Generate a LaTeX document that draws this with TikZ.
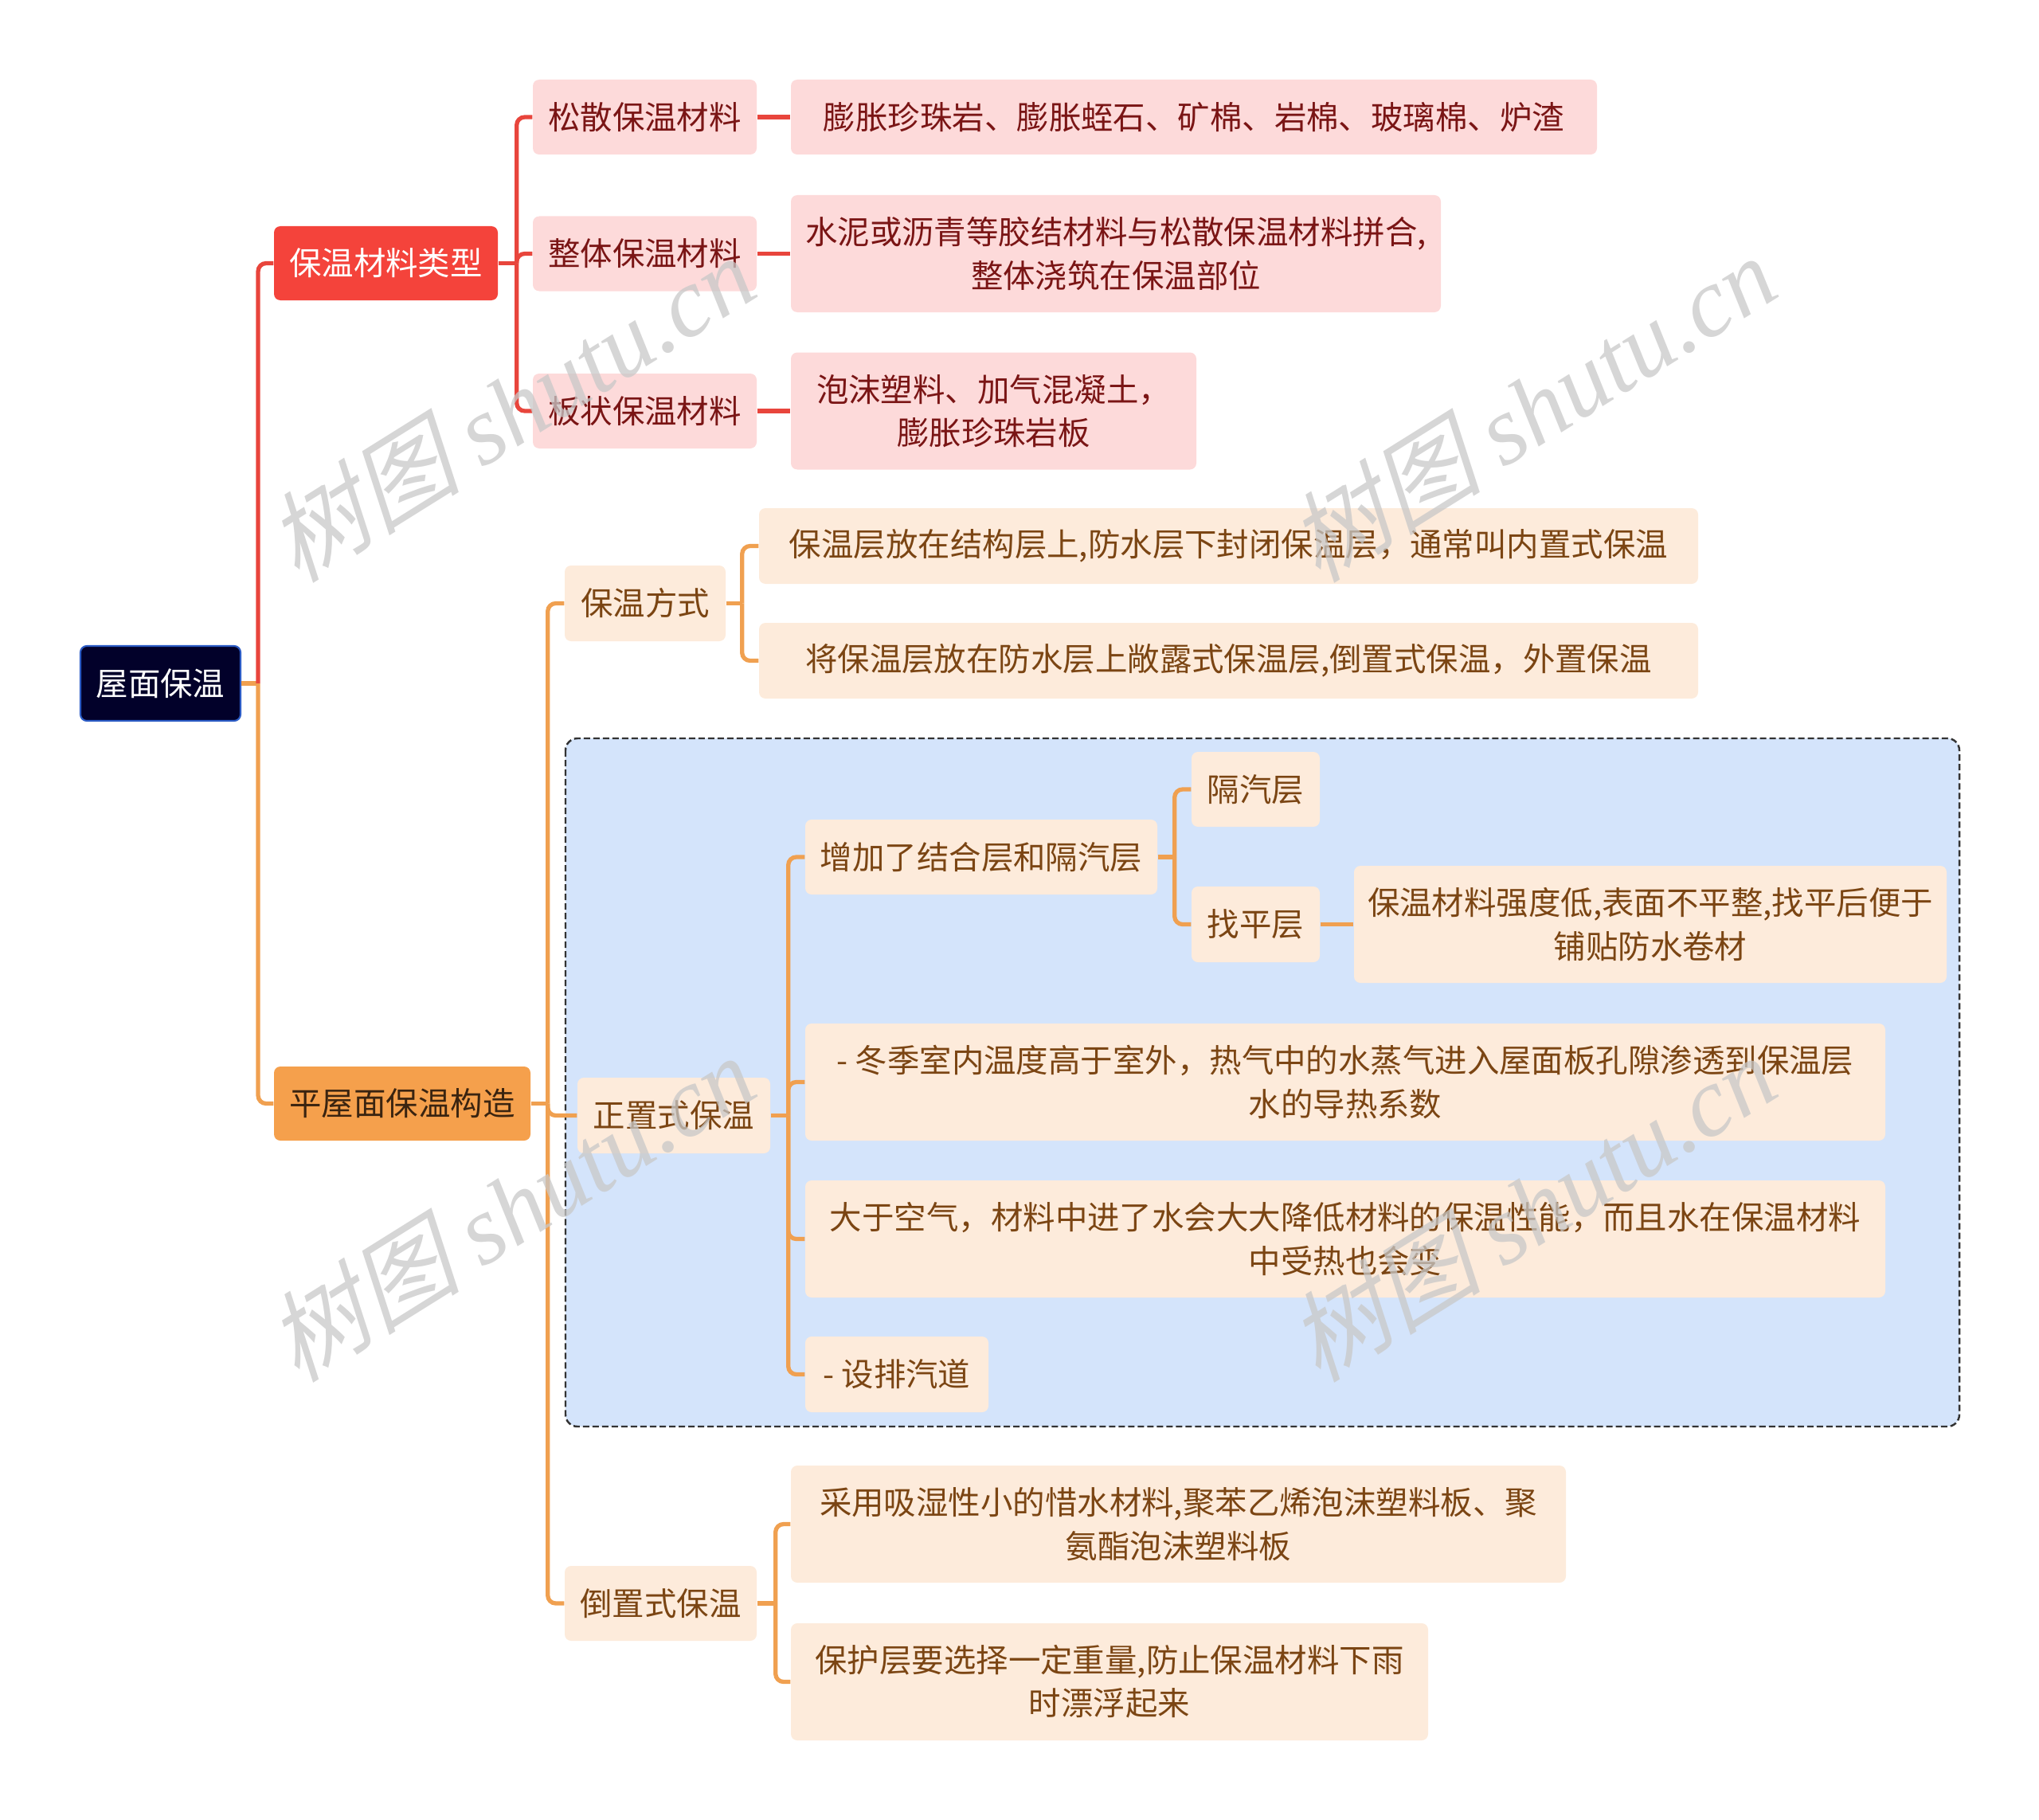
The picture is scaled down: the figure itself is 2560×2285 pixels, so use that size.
\documentclass[tikz,border=0pt]{standalone}
\usepackage{fontspec}
\setmainfont{Noto Sans CJK SC}
\newfontfamily\wmcjk[FakeSlant=0.25]{Noto Sans CJK SC}
\newfontfamily\wmlat{Liberation Serif}
\definecolor{rootfill}{RGB}{2,1,42}
\definecolor{rootline}{RGB}{44,92,197}
\definecolor{redfill}{RGB}{244,67,59}
\definecolor{pinkfill}{RGB}{253,218,218}
\definecolor{pinktext}{RGB}{122,21,21}
\definecolor{orangefill}{RGB}{245,160,76}
\definecolor{orangetext}{RGB}{58,36,16}
\definecolor{beigefill}{RGB}{253,235,219}
\definecolor{browntext}{RGB}{123,69,19}
\definecolor{conred}{RGB}{232,69,60}
\definecolor{conorange}{RGB}{240,160,80}
\definecolor{bluefill}{RGB}{212,228,251}
\definecolor{framegray}{RGB}{51,51,51}
\definecolor{wmgray}{RGB}{200,200,200}
\begin{document}
\begin{tikzpicture}[x=0.01cm,y=-0.01cm,
  box/.style={rounded corners=0.08cm, inner sep=0pt, align=center,
    font=\fontsize{11.5}{15.4}\selectfont},
  sz/.style 2 args={minimum width=#1*0.01cm, minimum height=#2*0.01cm},
  rootbox/.style={box, fill=rootfill, draw=rootline, line width=0.6pt, text=white},
  redbox/.style={box, fill=redfill, text=white},
  orangebox/.style={box, fill=orangefill, text=orangetext},
  pinkbox/.style={box, fill=pinkfill, text=pinktext},
  beigebox/.style={box, fill=beigefill, text=browntext},
  conR/.style={draw=conred, line width=1.5pt, rounded corners=0.1cm},
  conO/.style={draw=conorange, line width=1.5pt, rounded corners=0.1cm},
  frame/.style={draw=framegray, fill=bluefill, line width=0.7pt,
    dash pattern=on 0.08cm off 0.04cm, rounded corners=0.15cm},
  wm/.style={text=wmgray, opacity=0.75, rotate=32, inner sep=0pt}
]
\useasboundingbox (0,0) rectangle (2560,2285);

% frame
\path[frame] (710,927) rectangle (2460,1791);

% nodes
\node[rootbox, sz={201}{94}] (root) at (201.5,858) {屋面保温};
\node[redbox, sz={281}{93}] (t1) at (484.5,330.5) {保温材料类型};
\node[orangebox, sz={322}{93}] (t2) at (505,1385.5) {平屋面保温构造};

\node[pinkbox, sz={281}{94}] (a1) at (809.5,147) {松散保温材料};
\node[pinkbox, sz={281}{94}] (a2) at (809.5,318.5) {整体保温材料};
\node[pinkbox, sz={281}{94}] (a3) at (809.5,516) {板状保温材料};
\node[pinkbox, sz={1012}{94}] (a1l) at (1499,147) {膨胀珍珠岩、膨胀蛭石、矿棉、岩棉、玻璃棉、炉渣};
\node[pinkbox, sz={816}{147}] (a2l) at (1401,318.5) {水泥或沥青等胶结材料与松散保温材料拼合,\\整体浇筑在保温部位};
\node[pinkbox, sz={509}{147}] (a3l) at (1247.5,516) {泡沫塑料、加气混凝土，\\膨胀珍珠岩板};

\node[beigebox, sz={202}{95}] (b1) at (810,757.5) {保温方式};
\node[beigebox, sz={1179}{95}] (b1a) at (1542.5,685.5) {保温层放在结构层上,防水层下封闭保温层，通常叫内置式保温};
\node[beigebox, sz={1179}{95}] (b1b) at (1542.5,829.5) {将保温层放在防水层上敞露式保温层,倒置式保温，外置保温};

\node[beigebox, sz={242}{95}] (b2) at (846,1400.5) {正置式保温};
\node[beigebox, sz={442}{94}] (c1) at (1232,1076) {增加了结合层和隔汽层};
\node[beigebox, sz={161}{94}] (c1a) at (1576.5,991) {隔汽层};
\node[beigebox, sz={161}{95}] (c1b) at (1576.5,1160.5) {找平层};
\node[beigebox, sz={744}{147}] (c1bl) at (2072,1160.5) {保温材料强度低,表面不平整,找平后便于\\铺贴防水卷材};
\node[beigebox, sz={1356}{147}] (c2) at (1689,1358.5) {- 冬季室内温度高于室外，热气中的水蒸气进入屋面板孔隙渗透到保温层\\水的导热系数};
\node[beigebox, sz={1356}{147}] (c3) at (1689,1555.5) {大于空气，材料中进了水会大大降低材料的保温性能，而且水在保温材料\\中受热也会变};
\node[beigebox, sz={230}{95}] (c4) at (1126,1725.5) {- 设排汽道};

\node[beigebox, sz={241}{94}] (b3) at (829.5,2013) {倒置式保温};
\node[beigebox, sz={973}{147}] (b3a) at (1479.5,1913.5) {采用吸湿性小的惜水材料,聚苯乙烯泡沫塑料板、聚\\氨酯泡沫塑料板};
\node[beigebox, sz={800}{147}] (b3b) at (1393,2111.5) {保护层要选择一定重量,防止保温材料下雨\\时漂浮起来};

% connectors
\draw[conO] (root.east) -- ++(21,0) coordinate (rj);
\draw[conR] (rj) |- (t1.west);
\draw[conO] (rj) |- (t2.west);

\draw[conR] (t1.east) -- ++(23,0) coordinate (tj);
\draw[conR] (tj) |- (a1.west);
\draw[conR] (tj) |- (a2.west);
\draw[conR] (tj) |- (a3.west);
\draw[conR] (a1.east) -- (a1l.west);
\draw[conR] (a2.east) -- (a2l.west);
\draw[conR] (a3.east) -- (a3l.west);

\draw[conO] (t2.east) -- ++(21,0) coordinate (uj);
\draw[conO] (uj) |- (b1.west);
\draw[conO] (uj) |- (b2.west);
\draw[conO] (uj) |- (b3.west);

\draw[conO] (b1.east) -- ++(20,0) coordinate (b1j);
\draw[conO] (b1j) |- (b1a.west);
\draw[conO] (b1j) |- (b1b.west);

\draw[conO] (b2.east) -- ++(22,0) coordinate (b2j);
\draw[conO] (b2j) |- (c1.west);
\draw[conO] (b2j) |- (c2.west);
\draw[conO] (b2j) |- (c3.west);
\draw[conO] (b2j) |- (c4.west);

\draw[conO] (c1.east) -- ++(21,0) coordinate (c1j);
\draw[conO] (c1j) |- (c1a.west);
\draw[conO] (c1j) |- (c1b.west);
\draw[conO] (c1b.east) -- (c1bl.west);

\draw[conO] (b3.east) -- ++(23,0) coordinate (b3j);
\draw[conO] (b3j) |- (b3a.west);
\draw[conO] (b3j) |- (b3b.west);

% watermarks
\foreach \wx/\wy [count=\i] in {640/512, 1922/512, 640/1516, 1922/1516}
  \node[wm] (wm\i) at (\wx,\wy) {\fontsize{35}{35}\selectfont\wmcjk 树图 \wmlat\itshape shutu.cn};
\end{tikzpicture}
\end{document}
